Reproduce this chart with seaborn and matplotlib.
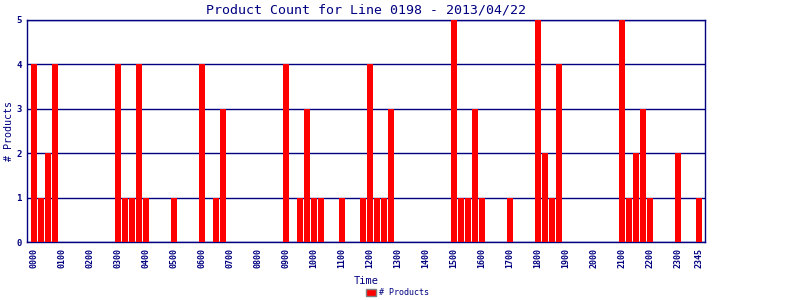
import matplotlib
matplotlib.use("Agg")
import matplotlib.pyplot as plt
import seaborn as sns
import pandas as pd
from matplotlib.patches import Patch

# 15-minute slots, 0000 .. 2345
slot_hours = ["00", "01", "02", "03", "04", "05", "06", "07", "08", "09", "10", "11",
              "12", "13", "14", "15", "16", "17", "18", "19", "20", "21", "22", "23"]
slot_minutes = ["00", "15", "30", "45"]
slots = [h + m for h in slot_hours for m in slot_minutes]

counts = [
    4, 1, 2, 4,   # 00
    0, 0, 0, 0,   # 01
    0, 0, 0, 0,   # 02
    4, 1, 1, 4,   # 03
    1, 0, 0, 0,   # 04
    1, 0, 0, 0,   # 05
    4, 0, 1, 3,   # 06
    0, 0, 0, 0,   # 07
    0, 0, 0, 0,   # 08
    4, 0, 1, 3,   # 09
    1, 1, 0, 0,   # 10
    1, 0, 0, 1,   # 11
    4, 1, 1, 3,   # 12
    0, 0, 0, 0,   # 13
    0, 0, 0, 0,   # 14
    5, 1, 1, 3,   # 15
    1, 0, 0, 0,   # 16
    1, 0, 0, 0,   # 17
    5, 2, 1, 4,   # 18
    0, 0, 0, 0,   # 19
    0, 0, 0, 0,   # 20
    5, 1, 2, 3,   # 21
    1, 0, 0, 0,   # 22
    2, 0, 0, 1,   # 23
]
tick_labels = [h + "00" for h in slot_hours] + ["2345"]

title = "Product Count for Line 0198 - 2013/04/22"
navy = "#000080"

df = pd.DataFrame({"Time": slots, "Products": counts})

sns.set_theme(style="white")
plt.rcParams["font.family"] = ["DejaVu Sans Mono", "DejaVu Sans"]

fig = plt.figure(figsize=(8, 3), dpi=100)
ax = fig.add_axes([27 / 800, 1 - 242 / 300, (705 - 27) / 800, (242 - 20) / 300])

sns.barplot(data=df, x="Time", y="Products", order=slots, color="#ff0000",
            saturation=1, width=0.85, ax=ax, zorder=3, edgecolor="none", linewidth=0)

ax.set_xlim(-0.99, 95.86)
ax.set_ylim(0, 5)
ax.set_yticks([0, 1, 2, 3, 4, 5])
ax.set_yticklabels(["0", "1", "2", "3", "4", "5"], fontsize=6.5, color=navy, fontweight="bold")
tick_pos = [slots.index(t) for t in tick_labels]
ax.set_xticks(tick_pos)
ax.set_xticklabels(tick_labels, rotation=90, fontsize=6, color=navy, fontweight="bold")
ax.tick_params(axis="both", length=0, pad=4)
ax.yaxis.grid(True, color=navy, linewidth=1, zorder=1)
ax.set_axisbelow(True)
for s in ax.spines.values():
    s.set_color(navy)
    s.set_linewidth(1)
    s.set_visible(True)

ax.set_xlabel("Time", fontsize=7.5, color=navy, labelpad=6)
ax.set_ylabel("# Products", fontsize=7.2, color=navy, va="center")
ax.yaxis.set_label_coords(-18 / 678, 0.5)
ax.set_title(title, fontsize=9.5, color=navy, pad=5)

handle = Patch(facecolor="#ff0000", edgecolor="#808080", linewidth=1)
fig.legend([handle], ["# Products"], loc="lower center", bbox_to_anchor=(0.497, -0.015),
           frameon=False, fontsize=6, labelcolor=navy, handlelength=1.2, handleheight=0.9,
           handletextpad=0.3)

fig.savefig("out.png", dpi=100)
